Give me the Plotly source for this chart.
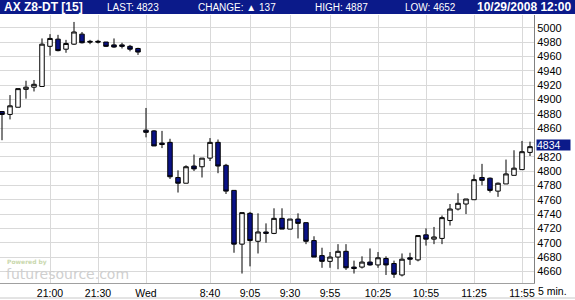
import plotly.graph_objects as go

# ---- data (5-minute candles, index 0 = 20:30 Tue) ----
opens  = [4883,4879,4889,4914,4917,4918,4974,4984,4970,4977,4991,4981,4981,4980,4976,4976,4974,4971,
          4857,4856,4839,4840,4791,4783,4807,4806,4818,4840,4808,4773,4698,4741,4702,4715,4713,4734,
          4719,4733,4728,4703,4682,4674,4680,4688,4666,4666,4673,4669,4678,4671,4655,4679,4676,4711,
          4705,4706,4731,4747,4754,4760,4791,4790,4772,4782,4794,4802,4826]
highs  = [4883,4906,4915,4926,4927,4985,4991,4990,4983,5008,4994,4983,4983,4980,4985,4979,4976,4972,
          4888,4857,4856,4845,4801,4808,4823,4818,4846,4844,4810,4773,4742,4743,4741,4727,4748,4748,
          4733,4741,4728,4709,4693,4687,4698,4698,4675,4681,4692,4687,4681,4675,4685,4686,4710,4720,
          4722,4738,4754,4769,4761,4795,4810,4791,4784,4816,4829,4842,4841]
lows   = [4843,4872,4889,4901,4911,4918,4961,4967,4965,4976,4978,4977,4978,4973,4972,4971,4967,4962,
          4847,4835,4832,4789,4770,4783,4800,4791,4814,4797,4768,4686,4657,4667,4685,4700,4712,4719,
          4719,4706,4698,4680,4665,4665,4663,4662,4657,4664,4668,4665,4655,4651,4653,4669,4674,4696,
          4698,4698,4724,4745,4740,4760,4780,4770,4764,4782,4794,4802,4821]
closes = [4879,4891,4915,4917,4921,4977,4985,4968,4978,4994,4979,4980,4980,4974,4973,4974,4970,4966,
          4854,4835,4837,4792,4783,4806,4803,4818,4840,4807,4772,4698,4742,4703,4715,4713,4734,4719,
          4733,4727,4702,4680,4674,4680,4688,4665,4664,4673,4669,4679,4669,4656,4677,4677,4710,4705,
          4708,4735,4747,4755,4761,4788,4787,4773,4783,4796,4804,4827,4834]
candle_idx = list(range(len(opens)))

tick_idx  = [6, 12, 18, 26, 31, 36, 41, 47, 53, 59, 65]
tick_text = ["21:00", "21:30", "Wed", "8:40", "9:05", "9:30", "9:55", "10:25", "10:55", "11:25", "11:55"]

price_ticks = list(range(4660, 5001, 20))
hidden_tick = 4840
last_price = 4834

header_title = "AX Z8-DT [15]"
header_last = "LAST: 4823"
header_change = "CHANGE: \u25b2 137"
header_high = "HIGH: 4887"
header_low = "LOW: 4652"
header_time = "10/29/2008 12:00"

# ---- layout geometry (pixels) ----
W, H = 575, 300
PL, PR, PT, PB = 0, 534, 15, 283   # plot area edges
NAVY = "#0b1a8a"
CANDLE_BLUE = "#0a1287"
GRID = "#d9d9d9"

def px(x):
    return (x - PL) / (PR - PL)

def py(y):
    return (PB - y) / (PB - PT)

fig = go.Figure()
fig.add_trace(go.Candlestick(
    x=candle_idx, open=opens, high=highs, low=lows, close=closes,
    increasing=dict(fillcolor="white", line=dict(color="black", width=1)),
    decreasing=dict(fillcolor=CANDLE_BLUE, line=dict(color="black", width=1)),
    whiskerwidth=0, hoverinfo="skip", showlegend=False,
))

fig.update_layout(
    width=W, height=H,
    margin=dict(l=PL, r=W - PR, t=PT, b=H - PB),
    paper_bgcolor="white", plot_bgcolor="white",
    boxgap=0.2,
    font=dict(family="Liberation Sans, Arial, sans-serif", size=11, color="black"),
    xaxis=dict(
        range=[-0.25, 66.5], rangeslider=dict(visible=False),
        tickmode="array", tickvals=tick_idx, ticktext=tick_text,
        showgrid=True, gridcolor=GRID, gridwidth=1,
        showline=True, linecolor="#a0a0a0", linewidth=1,
        ticks="", zeroline=False, tickfont=dict(size=10.5),
    ),
    yaxis=dict(
        range=[4643.8, 5017.7], side="right",
        tickmode="array", tickvals=price_ticks,
        ticktext=[("" if v == hidden_tick else str(v)) for v in price_ticks],
        showgrid=True, gridcolor=GRID, gridwidth=1,
        showline=True, linecolor="#808080", linewidth=1,
        ticks="", zeroline=False, tickfont=dict(size=11),
    ),
)

shapes = [
    dict(type="rect", xref="paper", yref="paper", x0=px(0), x1=px(W), y0=py(14), y1=py(0),
         fillcolor=NAVY, line=dict(width=0), layer="above"),
    dict(type="line", xref="paper", yref="paper", x0=px(0), x1=px(W), y0=py(298), y1=py(298),
         line=dict(color="#c8c8c8", width=1)),
]
fig.update_layout(shapes=shapes)

hfont = "Liberation Sans, Arial, sans-serif"
ann = []
def header_text(text, x, anchor, bold=False, size=10):
    ann.append(dict(text=("<b>%s</b>" % text) if bold else text, xref="paper", yref="paper",
                    x=px(x), y=py(7.5), xanchor=anchor, yanchor="middle", showarrow=False,
                    font=dict(family=hfont, size=size, color="white")))

header_text(header_title, 2, "left", bold=True, size=12)
header_text(header_last, 105, "left")
header_text(header_change, 196, "left")
header_text(header_high, 313, "left")
header_text(header_low, 403, "left")
header_text(header_time, 573, "right", bold=True, size=12)

# current price tag
ann.append(dict(text=str(last_price), xref="paper", yref="y", x=px(536), y=last_price,
                xanchor="left", yanchor="middle", showarrow=False, align="left",
                bgcolor=NAVY, width=33, height=10, borderpad=0, yshift=1.5,
                font=dict(family=hfont, size=10.5, color="white")))

# "5 min." label
ann.append(dict(text="5 min.", xref="paper", yref="paper", x=px(536), y=py(291),
                xanchor="left", yanchor="middle", showarrow=False,
                font=dict(family=hfont, size=10.5, color="black")))

# watermark
ann.append(dict(text="<b>Powered by</b>", xref="paper", yref="paper", x=px(5), y=py(261.5),
                xanchor="left", yanchor="middle", showarrow=False,
                font=dict(family="DejaVu Sans, sans-serif", size=6, color="#c9d8ad")))
ann.append(dict(text="futuresource.com", xref="paper", yref="paper", x=px(4), y=py(274),
                xanchor="left", yanchor="middle", showarrow=False,
                font=dict(family="DejaVu Sans, sans-serif", size=14, color="#cfcfcf")))

fig.update_layout(annotations=ann)
fig.write_html("out.html")
